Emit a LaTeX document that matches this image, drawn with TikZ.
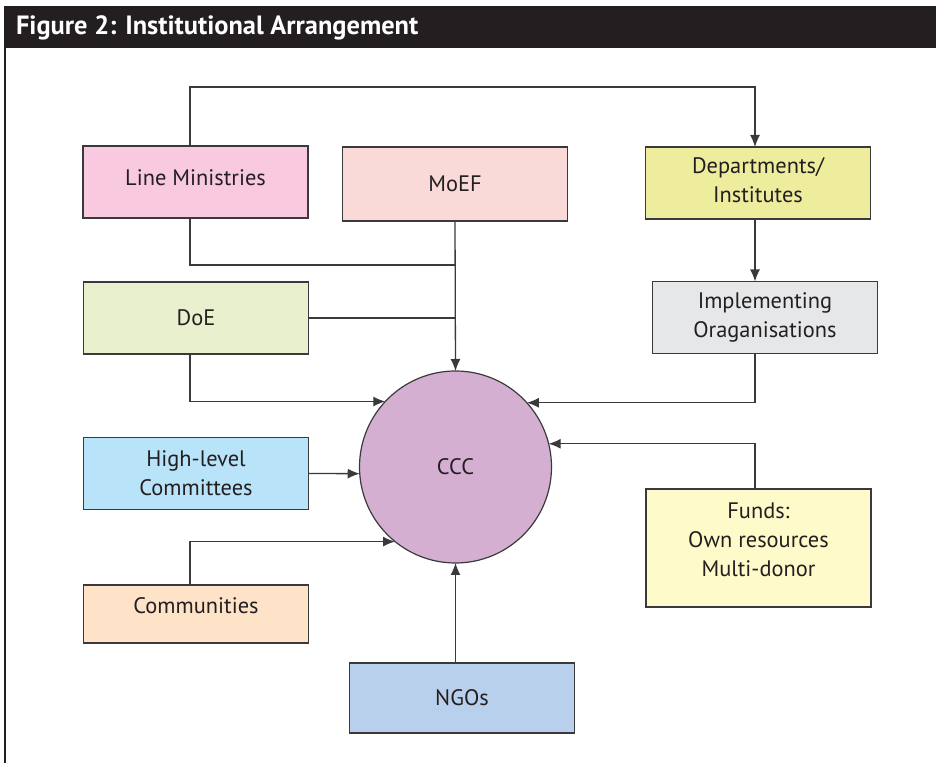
\documentclass[tikz,border=0pt]{standalone}
\usepackage{fontspec}
\setmainfont{PT Sans}
\usetikzlibrary{arrows.meta}

\definecolor{figtext}{HTML}{231F20}
\definecolor{boxline}{HTML}{3A3A3C}
\definecolor{lmfill}{HTML}{F8C9DF}
\definecolor{moeffill}{HTML}{FADAD8}
\definecolor{deptfill}{HTML}{EEEC9D}
\definecolor{doefill}{HTML}{E9F0CD}
\definecolor{implfill}{HTML}{E6E7E8}
\definecolor{hlcfill}{HTML}{B9E3F8}
\definecolor{commfill}{HTML}{FEE3C8}
\definecolor{ngofill}{HTML}{B9D0EC}
\definecolor{fundfill}{HTML}{FFFACA}
\definecolor{cccfill}{HTML}{D4AFD1}

\begin{document}
\begin{tikzpicture}[x=0.5pt, y=-0.5pt,
    orgbox/.style={draw=boxline, line width=0.6pt, outer sep=0pt, align=center,
        text=figtext, font=\fontsize{11.2}{14.5}\selectfont,
        minimum width=112.5pt, minimum height=36pt},
    link/.style={draw=boxline, line width=0.65pt},
    tip/.style={-{Latex[length=6pt,width=5pt]}}]

    \useasboundingbox (0,0) rectangle (938,763);

    % frame and title bar
    \fill[figtext] (4,6) rectangle (936,48);
    \draw[figtext, line width=1pt] (4.5,48) -- (4.5,763);
    \node[anchor=west, text=white, font=\bfseries\fontsize{13.2}{16}\selectfont]
        (title) at (9,28) {Figure 2: Institutional Arrangement};

    % boxes
    \node[orgbox, fill=lmfill, text depth=4pt] (lm) at (195.5,182) {Line Ministries};
    \node[orgbox, fill=moeffill, minimum height=37pt] (moef) at (455,184) {MoEF};
    \node[orgbox, fill=deptfill, text depth=3pt] (dept) at (758,183) {Departments/\\Institutes};
    \node[orgbox, fill=doefill] (doe) at (196,318) {DoE};
    \node[orgbox, fill=implfill] (impl) at (765,317.5) {Implementing\\Oraganisations};
    \node[orgbox, fill=hlcfill] (hlc) at (196,473.5) {High-level\\Committees};
    \node[orgbox, fill=commfill, minimum height=29pt, text depth=8pt] (comm) at (196,614) {Communities};
    \node[orgbox, fill=ngofill, minimum height=35pt] (ngo) at (462,698) {NGOs};
    \node[orgbox, fill=fundfill, minimum height=59pt, text depth=8pt] (funds) at (758.5,548) {Funds:\\Own resources\\Multi-donor};

    % centre
    \node[circle, draw=boxline, line width=0.6pt, fill=cccfill, minimum size=96pt,
        outer sep=0pt, text=figtext, font=\fontsize{11.2}{14.5}\selectfont] (ccc) at (455.5,467) {CCC};

    % rails
    \coordinate (rail) at (755,87);
    \coordinate (spine) at (190,265);

    % right side
    \draw[link, tip] (lm.north -| spine) |- (rail) -- (rail |- dept.north);
    \draw[link, tip] (rail |- dept.south) -- (rail |- impl.north);
    \draw[link, tip] (rail |- impl.south) |- (ccc.42.6);
    \draw[link, tip] (rail |- funds.north) |- (ccc.14.5);

    % left side
    \draw[link] (spine |- lm.south) -- (spine) -- (spine -| moef.south);
    \draw[link, tip] (moef.south) -- (ccc.north);
    \draw[link] (doe.east) -- (doe.east -| moef.south);
    \draw[link, tip] (spine |- doe.south) |- (ccc.137.4);
    \draw[link, tip] (hlc.east) -- (ccc.184);
    \draw[link, tip] (spine |- comm.north) |- (ccc.231.4);
    \draw[link, tip] (ccc.south |- ngo.north) -- (ccc.south);

\end{tikzpicture}
\end{document}
